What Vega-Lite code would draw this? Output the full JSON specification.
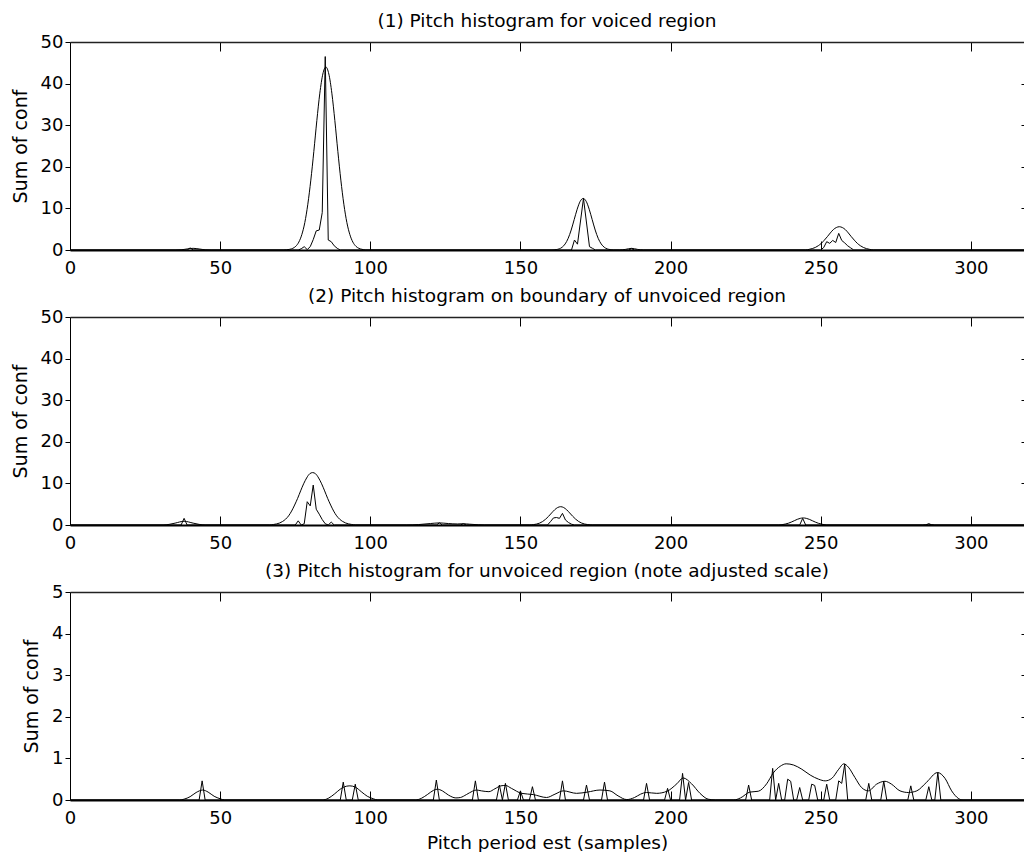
{
  "$schema": "https://vega.github.io/schema/vega-lite/v6.json",
  "background": "white",
  "padding": {"left": 11, "top": 11, "right": 0, "bottom": 0},
  "spacing": 67,
  "bounds": "flush",
  "config": {
    "view": {"stroke": null},
    "font": "DejaVu Sans",
    "axis": {
      "grid": false,
      "domainColor": "#000",
      "tickColor": "#000",
      "labelColor": "#000",
      "titleColor": "#000",
      "labelFont": "DejaVu Sans",
      "titleFont": "DejaVu Sans",
      "labelFontSize": 18,
      "titleFontSize": 19,
      "titleFontWeight": "normal",
      "labelFlush": false,
      "labelOverlap": false
    },
    "title": {"font": "DejaVu Sans", "fontSize": 18.5, "fontWeight": "normal", "color": "#000"},
    "line": {"color": "#000", "strokeWidth": 1}
  },
  "datasets": {
    "p1s": [
      {"x": 0, "y": 0}, {"x": 35, "y": 0}, {"x": 37, "y": 0.05}, {"x": 39, "y": 0.25}, {"x": 41, "y": 0.4}, {"x": 43, "y": 0.25}, {"x": 45, "y": 0.05}, {"x": 47, "y": 0},
      {"x": 71, "y": 0}, {"x": 73.2, "y": 0.17}, {"x": 74.2, "y": 0.4}, {"x": 75.2, "y": 0.9}, {"x": 76.2, "y": 1.9}, {"x": 77.2, "y": 3.7}, {"x": 78.2, "y": 6.6}, {"x": 79.2, "y": 11.0}, {"x": 80.2, "y": 16.8}, {"x": 81.2, "y": 23.7}, {"x": 82.2, "y": 31.1}, {"x": 83.2, "y": 37.7}, {"x": 84.2, "y": 42.3}, {"x": 85.2, "y": 44.0}, {"x": 86.2, "y": 42.3}, {"x": 87.2, "y": 37.7}, {"x": 88.2, "y": 31.1}, {"x": 89.2, "y": 23.7}, {"x": 90.2, "y": 16.8}, {"x": 91.2, "y": 11.0}, {"x": 92.2, "y": 6.6}, {"x": 93.2, "y": 3.7}, {"x": 94.2, "y": 1.9}, {"x": 95.2, "y": 0.9}, {"x": 96.2, "y": 0.4}, {"x": 97.2, "y": 0.17}, {"x": 98.5, "y": 0},
      {"x": 160.5, "y": 0}, {"x": 161.9, "y": 0.1}, {"x": 162.9, "y": 0.27}, {"x": 163.9, "y": 0.67}, {"x": 164.9, "y": 1.46}, {"x": 165.9, "y": 2.8}, {"x": 166.9, "y": 4.8}, {"x": 167.9, "y": 7.3}, {"x": 168.9, "y": 9.8}, {"x": 169.9, "y": 11.7}, {"x": 170.9, "y": 12.4}, {"x": 171.9, "y": 11.7}, {"x": 172.9, "y": 9.8}, {"x": 173.9, "y": 7.3}, {"x": 174.9, "y": 4.8}, {"x": 175.9, "y": 2.8}, {"x": 176.9, "y": 1.46}, {"x": 177.9, "y": 0.67}, {"x": 178.9, "y": 0.27}, {"x": 179.9, "y": 0.1}, {"x": 181, "y": 0},
      {"x": 183, "y": 0}, {"x": 185, "y": 0.15}, {"x": 187, "y": 0.4}, {"x": 189, "y": 0.15}, {"x": 191, "y": 0},
      {"x": 245, "y": 0}, {"x": 246.2, "y": 0.17}, {"x": 247.2, "y": 0.34}, {"x": 248.2, "y": 0.61}, {"x": 249.2, "y": 1.03}, {"x": 250.2, "y": 1.6}, {"x": 251.2, "y": 2.36}, {"x": 252.2, "y": 3.2}, {"x": 253.2, "y": 4.1}, {"x": 254.2, "y": 4.9}, {"x": 255.2, "y": 5.4}, {"x": 256.2, "y": 5.6}, {"x": 257.2, "y": 5.4}, {"x": 258.2, "y": 4.9}, {"x": 259.2, "y": 4.1}, {"x": 260.2, "y": 3.2}, {"x": 261.2, "y": 2.36}, {"x": 262.2, "y": 1.6}, {"x": 263.2, "y": 1.03}, {"x": 264.2, "y": 0.61}, {"x": 265.2, "y": 0.34}, {"x": 266.2, "y": 0.17}, {"x": 267.5, "y": 0}, {"x": 317.7, "y": 0}
    ],
    "p1h": [
      {"x": 0, "y": 0}, {"x": 39, "y": 0}, {"x": 40, "y": 0.5}, {"x": 41, "y": 0},
      {"x": 76, "y": 0}, {"x": 77, "y": 0.3}, {"x": 78, "y": 0.8}, {"x": 79, "y": 0.1}, {"x": 80, "y": 0.8}, {"x": 81, "y": 2.5}, {"x": 82, "y": 4.6}, {"x": 83, "y": 4.8}, {"x": 84, "y": 9.0}, {"x": 85, "y": 46.5}, {"x": 86, "y": 2.4}, {"x": 87, "y": 2.0}, {"x": 88, "y": 1.0}, {"x": 89, "y": 0.4}, {"x": 90, "y": 0},
      {"x": 167, "y": 0}, {"x": 168, "y": 2.4}, {"x": 169, "y": 1.4}, {"x": 171, "y": 12.4}, {"x": 173, "y": 0.8}, {"x": 174, "y": 0.4}, {"x": 175, "y": 0},
      {"x": 186, "y": 0}, {"x": 187, "y": 0.3}, {"x": 188, "y": 0},
      {"x": 250, "y": 0}, {"x": 251, "y": 0.6}, {"x": 252, "y": 2.0}, {"x": 253, "y": 1.6}, {"x": 254, "y": 2.3}, {"x": 255, "y": 1.8}, {"x": 256, "y": 4.0}, {"x": 257, "y": 2.3}, {"x": 258, "y": 1.7}, {"x": 259, "y": 1.0}, {"x": 260, "y": 0.5}, {"x": 261, "y": 0}, {"x": 317.7, "y": 0}
    ],
    "p2s": [
      {"x": 0, "y": 0}, {"x": 31, "y": 0}, {"x": 33, "y": 0.15}, {"x": 35, "y": 0.45}, {"x": 38, "y": 0.9}, {"x": 41, "y": 0.45}, {"x": 43, "y": 0.15}, {"x": 45, "y": 0},
      {"x": 66.5, "y": 0}, {"x": 67.8, "y": 0.13}, {"x": 68.8, "y": 0.26}, {"x": 69.8, "y": 0.48}, {"x": 70.8, "y": 0.85}, {"x": 71.8, "y": 1.4}, {"x": 72.8, "y": 2.2}, {"x": 73.8, "y": 3.35}, {"x": 74.8, "y": 4.8}, {"x": 75.8, "y": 6.4}, {"x": 76.8, "y": 8.2}, {"x": 77.8, "y": 9.9}, {"x": 78.8, "y": 11.3}, {"x": 79.8, "y": 12.3}, {"x": 80.8, "y": 12.6}, {"x": 81.8, "y": 12.3}, {"x": 82.8, "y": 11.3}, {"x": 83.8, "y": 9.9}, {"x": 84.8, "y": 8.2}, {"x": 85.8, "y": 6.4}, {"x": 86.8, "y": 4.8}, {"x": 87.8, "y": 3.35}, {"x": 88.8, "y": 2.2}, {"x": 89.8, "y": 1.4}, {"x": 90.8, "y": 0.85}, {"x": 91.8, "y": 0.48}, {"x": 92.8, "y": 0.26}, {"x": 93.8, "y": 0.13}, {"x": 95, "y": 0},
      {"x": 112, "y": 0}, {"x": 116, "y": 0.1}, {"x": 120, "y": 0.35}, {"x": 123, "y": 0.5}, {"x": 126, "y": 0.35}, {"x": 129, "y": 0.25}, {"x": 131, "y": 0.3}, {"x": 133, "y": 0.2}, {"x": 136, "y": 0.05}, {"x": 138, "y": 0},
      {"x": 153, "y": 0}, {"x": 154.4, "y": 0.1}, {"x": 155.4, "y": 0.23}, {"x": 156.4, "y": 0.46}, {"x": 157.4, "y": 0.84}, {"x": 158.4, "y": 1.4}, {"x": 159.4, "y": 2.1}, {"x": 160.4, "y": 2.9}, {"x": 161.4, "y": 3.66}, {"x": 162.4, "y": 4.2}, {"x": 163.4, "y": 4.4}, {"x": 164.4, "y": 4.2}, {"x": 165.4, "y": 3.66}, {"x": 166.4, "y": 2.9}, {"x": 167.4, "y": 2.1}, {"x": 168.4, "y": 1.4}, {"x": 169.4, "y": 0.84}, {"x": 170.4, "y": 0.46}, {"x": 171.4, "y": 0.23}, {"x": 172.4, "y": 0.1}, {"x": 174, "y": 0},
      {"x": 236, "y": 0}, {"x": 238.2, "y": 0.23}, {"x": 239.2, "y": 0.42}, {"x": 240.2, "y": 0.7}, {"x": 241.2, "y": 1.03}, {"x": 242.2, "y": 1.36}, {"x": 243.2, "y": 1.6}, {"x": 244.2, "y": 1.7}, {"x": 245.2, "y": 1.6}, {"x": 246.2, "y": 1.36}, {"x": 247.2, "y": 1.03}, {"x": 248.2, "y": 0.7}, {"x": 249.2, "y": 0.42}, {"x": 250.2, "y": 0.23}, {"x": 252, "y": 0},
      {"x": 284, "y": 0}, {"x": 286, "y": 0.2}, {"x": 288, "y": 0}, {"x": 317.7, "y": 0}
    ],
    "p2h": [
      {"x": 0, "y": 0}, {"x": 37, "y": 0}, {"x": 38, "y": 1.6}, {"x": 39, "y": 0},
      {"x": 75, "y": 0}, {"x": 76, "y": 1.0}, {"x": 77, "y": 0}, {"x": 78, "y": 0.3}, {"x": 79, "y": 5.6}, {"x": 80, "y": 4.6}, {"x": 81, "y": 9.6}, {"x": 82, "y": 3.8}, {"x": 83, "y": 2.6}, {"x": 84, "y": 1.3}, {"x": 85, "y": 0.3}, {"x": 86, "y": 0}, {"x": 87, "y": 0.7}, {"x": 88, "y": 0},
      {"x": 122, "y": 0}, {"x": 123, "y": 0.5}, {"x": 124, "y": 0}, {"x": 130, "y": 0}, {"x": 131, "y": 0.3}, {"x": 132, "y": 0},
      {"x": 159, "y": 0}, {"x": 160, "y": 0.8}, {"x": 161, "y": 1.7}, {"x": 162, "y": 1.8}, {"x": 163, "y": 1.6}, {"x": 164, "y": 2.8}, {"x": 165, "y": 1.2}, {"x": 166, "y": 0.6}, {"x": 167, "y": 0.2}, {"x": 168, "y": 0},
      {"x": 243, "y": 0}, {"x": 244, "y": 1.6}, {"x": 245, "y": 0},
      {"x": 285, "y": 0}, {"x": 286, "y": 0.3}, {"x": 287, "y": 0}, {"x": 317.7, "y": 0}
    ],
    "p3s": [
      {"x": 0, "y": 0}, {"x": 36.5, "y": 0}, {"x": 38, "y": 0.02}, {"x": 40, "y": 0.08}, {"x": 42, "y": 0.18}, {"x": 44.2, "y": 0.24}, {"x": 46, "y": 0.19}, {"x": 48, "y": 0.09}, {"x": 50, "y": 0.03}, {"x": 51.5, "y": 0},
      {"x": 84, "y": 0}, {"x": 86, "y": 0.04}, {"x": 88, "y": 0.14}, {"x": 90, "y": 0.26}, {"x": 92, "y": 0.33}, {"x": 93.2, "y": 0.34}, {"x": 95, "y": 0.31}, {"x": 97, "y": 0.2}, {"x": 99, "y": 0.09}, {"x": 101, "y": 0.03}, {"x": 102.5, "y": 0},
      {"x": 115, "y": 0}, {"x": 117, "y": 0.04}, {"x": 119, "y": 0.13}, {"x": 121, "y": 0.23}, {"x": 122.3, "y": 0.26}, {"x": 124, "y": 0.22}, {"x": 126, "y": 0.12}, {"x": 128.5, "y": 0.05}, {"x": 130, "y": 0.06}, {"x": 132, "y": 0.13}, {"x": 134, "y": 0.21}, {"x": 135.3, "y": 0.24}, {"x": 137, "y": 0.22}, {"x": 139.5, "y": 0.2}, {"x": 141.5, "y": 0.27}, {"x": 143.5, "y": 0.34}, {"x": 145, "y": 0.35}, {"x": 147, "y": 0.28}, {"x": 150.4, "y": 0.16}, {"x": 154.3, "y": 0.13}, {"x": 158.7, "y": 0.06}, {"x": 161.5, "y": 0.14}, {"x": 164.3, "y": 0.22}, {"x": 168.7, "y": 0.16}, {"x": 172.3, "y": 0.19}, {"x": 176.5, "y": 0.24}, {"x": 179.8, "y": 0.22}, {"x": 182.5, "y": 0.1}, {"x": 185.4, "y": 0.01}, {"x": 188, "y": 0.06}, {"x": 190, "y": 0.14}, {"x": 192, "y": 0.18}, {"x": 195.4, "y": 0.16}, {"x": 198.8, "y": 0.21}, {"x": 202.1, "y": 0.39}, {"x": 204.2, "y": 0.53}, {"x": 207, "y": 0.39}, {"x": 209.8, "y": 0.16}, {"x": 212.5, "y": 0.02}, {"x": 215, "y": 0},
      {"x": 221, "y": 0}, {"x": 223.3, "y": 0.05}, {"x": 226.4, "y": 0.19}, {"x": 229.2, "y": 0.21}, {"x": 232, "y": 0.39}, {"x": 234.2, "y": 0.65}, {"x": 236.5, "y": 0.81}, {"x": 238.5, "y": 0.87}, {"x": 241, "y": 0.84}, {"x": 243.7, "y": 0.74}, {"x": 246.5, "y": 0.6}, {"x": 249.3, "y": 0.5}, {"x": 251.5, "y": 0.46}, {"x": 253.7, "y": 0.52}, {"x": 256, "y": 0.74}, {"x": 257.7, "y": 0.87}, {"x": 259.2, "y": 0.79}, {"x": 261.4, "y": 0.54}, {"x": 263.6, "y": 0.3}, {"x": 265.9, "y": 0.22}, {"x": 268.6, "y": 0.38}, {"x": 271.4, "y": 0.45}, {"x": 273.6, "y": 0.38}, {"x": 276.4, "y": 0.22}, {"x": 279.2, "y": 0.18}, {"x": 282, "y": 0.22}, {"x": 285.3, "y": 0.43}, {"x": 288.9, "y": 0.66}, {"x": 291.4, "y": 0.52}, {"x": 293.6, "y": 0.22}, {"x": 295.8, "y": 0.04}, {"x": 297.4, "y": 0}, {"x": 317.7, "y": 0}
    ],
    "p3h": [
      {"x": 0, "y": 0}, {"x": 43, "y": 0}, {"x": 44, "y": 0.46}, {"x": 45, "y": 0},
      {"x": 90, "y": 0}, {"x": 91, "y": 0.43}, {"x": 92, "y": 0}, {"x": 94, "y": 0}, {"x": 95, "y": 0.38}, {"x": 96, "y": 0},
      {"x": 121, "y": 0}, {"x": 122, "y": 0.48}, {"x": 123, "y": 0},
      {"x": 134, "y": 0}, {"x": 135, "y": 0.46}, {"x": 136, "y": 0},
      {"x": 142, "y": 0}, {"x": 143, "y": 0.36}, {"x": 144, "y": 0}, {"x": 145, "y": 0.4}, {"x": 146, "y": 0},
      {"x": 149, "y": 0}, {"x": 150, "y": 0.22}, {"x": 151, "y": 0}, {"x": 153, "y": 0}, {"x": 154, "y": 0.32}, {"x": 155, "y": 0},
      {"x": 163, "y": 0}, {"x": 164, "y": 0.46}, {"x": 165, "y": 0},
      {"x": 171, "y": 0}, {"x": 172, "y": 0.36}, {"x": 173, "y": 0},
      {"x": 177, "y": 0}, {"x": 178, "y": 0.43}, {"x": 179, "y": 0},
      {"x": 191, "y": 0}, {"x": 192, "y": 0.4}, {"x": 193, "y": 0},
      {"x": 198, "y": 0}, {"x": 199, "y": 0.28}, {"x": 200, "y": 0},
      {"x": 203, "y": 0}, {"x": 204, "y": 0.64}, {"x": 205, "y": 0}, {"x": 206, "y": 0.42}, {"x": 207, "y": 0},
      {"x": 225, "y": 0}, {"x": 226, "y": 0.36}, {"x": 227, "y": 0},
      {"x": 233, "y": 0}, {"x": 234, "y": 0.76}, {"x": 235, "y": 0}, {"x": 236, "y": 0.4}, {"x": 237, "y": 0}, {"x": 238, "y": 0}, {"x": 239, "y": 0.5}, {"x": 240, "y": 0.45}, {"x": 241, "y": 0}, {"x": 242, "y": 0}, {"x": 243, "y": 0.3}, {"x": 244, "y": 0},
      {"x": 246, "y": 0}, {"x": 247, "y": 0.38}, {"x": 248, "y": 0.35}, {"x": 249, "y": 0},
      {"x": 251, "y": 0}, {"x": 252, "y": 0.38}, {"x": 253, "y": 0},
      {"x": 255, "y": 0}, {"x": 256, "y": 0.46}, {"x": 257, "y": 0.4}, {"x": 258, "y": 0.86}, {"x": 259, "y": 0},
      {"x": 265, "y": 0}, {"x": 266, "y": 0.4}, {"x": 267, "y": 0},
      {"x": 270, "y": 0}, {"x": 271, "y": 0.45}, {"x": 272, "y": 0},
      {"x": 279, "y": 0}, {"x": 280, "y": 0.34}, {"x": 281, "y": 0},
      {"x": 285, "y": 0}, {"x": 286, "y": 0.32}, {"x": 287, "y": 0}, {"x": 288, "y": 0}, {"x": 289, "y": 0.66}, {"x": 290, "y": 0}, {"x": 317.7, "y": 0}
    ]
  },
  "vconcat": [
    {
      "title": {"text": "(1) Pitch histogram for voiced region", "frame": "group", "anchor": "middle", "offset": 3},
      "width": 954,
      "height": 208,
      "layer": [
        {
          "data": {"name": "p1s"},
          "mark": {"type": "line", "interpolate": "monotone", "clip": true},
          "encoding": {
            "x": {"field": "x", "type": "quantitative", "scale": {"domain": [0, 317.7], "nice": false, "zero": false},
              "axis": {"orient": "bottom", "title": null, "values": [0, 50, 100, 150, 200, 250, 300], "tickSize": -9, "labelPadding": 18, "domainWidth": 2}},
            "y": {"field": "y", "type": "quantitative", "scale": {"domain": [0, 50], "nice": false},
              "axis": {"orient": "left", "title": "Sum of conf", "values": [0, 10, 20, 30, 40, 50], "tickSize": 5, "labelPadding": 2, "titlePadding": 10}}
          }
        },
        {
          "data": {"name": "p1h"},
          "mark": {"type": "line", "clip": true},
          "encoding": {
            "x": {"field": "x", "type": "quantitative",
              "axis": {"orient": "top", "title": null, "labels": false, "values": [50, 100, 150, 200, 250, 300], "tickSize": -9, "domainWidth": 1.5, "domainColor": "#222"}},
            "y": {"field": "y", "type": "quantitative",
              "axis": {"orient": "right", "title": null, "labels": false, "domain": false, "values": [10, 20, 30, 40], "tickSize": -3}}
          }
        }
      ]
    },
    {
      "title": {"text": "(2) Pitch histogram on boundary of unvoiced region", "frame": "group", "anchor": "middle", "offset": 3},
      "width": 954,
      "height": 208,
      "layer": [
        {
          "data": {"name": "p2s"},
          "mark": {"type": "line", "interpolate": "monotone", "clip": true},
          "encoding": {
            "x": {"field": "x", "type": "quantitative", "scale": {"domain": [0, 317.7], "nice": false, "zero": false},
              "axis": {"orient": "bottom", "title": null, "values": [0, 50, 100, 150, 200, 250, 300], "tickSize": -9, "labelPadding": 18, "domainWidth": 2}},
            "y": {"field": "y", "type": "quantitative", "scale": {"domain": [0, 50], "nice": false},
              "axis": {"orient": "left", "title": "Sum of conf", "values": [0, 10, 20, 30, 40, 50], "tickSize": 5, "labelPadding": 2, "titlePadding": 10}}
          }
        },
        {
          "data": {"name": "p2h"},
          "mark": {"type": "line", "clip": true},
          "encoding": {
            "x": {"field": "x", "type": "quantitative",
              "axis": {"orient": "top", "title": null, "labels": false, "values": [50, 100, 150, 200, 250, 300], "tickSize": -9, "domainWidth": 1.5, "domainColor": "#222"}},
            "y": {"field": "y", "type": "quantitative",
              "axis": {"orient": "right", "title": null, "labels": false, "domain": false, "values": [10, 20, 30, 40], "tickSize": -3}}
          }
        }
      ]
    },
    {
      "title": {"text": "(3) Pitch histogram for unvoiced region (note adjusted scale)", "frame": "group", "anchor": "middle", "offset": 3},
      "width": 954,
      "height": 208,
      "layer": [
        {
          "data": {"name": "p3s"},
          "mark": {"type": "line", "interpolate": "monotone", "clip": true},
          "encoding": {
            "x": {"field": "x", "type": "quantitative", "scale": {"domain": [0, 317.7], "nice": false, "zero": false},
              "axis": {"orient": "bottom", "title": "Pitch period est (samples)", "values": [0, 50, 100, 150, 200, 250, 300], "tickSize": -9, "labelPadding": 18, "domainWidth": 2, "titlePadding": 6, "titleFontSize": 18.5}},
            "y": {"field": "y", "type": "quantitative", "scale": {"domain": [0, 5], "nice": false},
              "axis": {"orient": "left", "title": "Sum of conf", "values": [0, 1, 2, 3, 4, 5], "tickSize": 5, "labelPadding": 2, "titlePadding": 10}}
          }
        },
        {
          "data": {"name": "p3h"},
          "mark": {"type": "line", "clip": true},
          "encoding": {
            "x": {"field": "x", "type": "quantitative",
              "axis": {"orient": "top", "title": null, "labels": false, "values": [50, 100, 150, 200, 250, 300], "tickSize": -9, "domainWidth": 1.5, "domainColor": "#222"}},
            "y": {"field": "y", "type": "quantitative",
              "axis": {"orient": "right", "title": null, "labels": false, "domain": false, "values": [1, 2, 3, 4], "tickSize": -3}}
          }
        }
      ]
    }
  ]
}
